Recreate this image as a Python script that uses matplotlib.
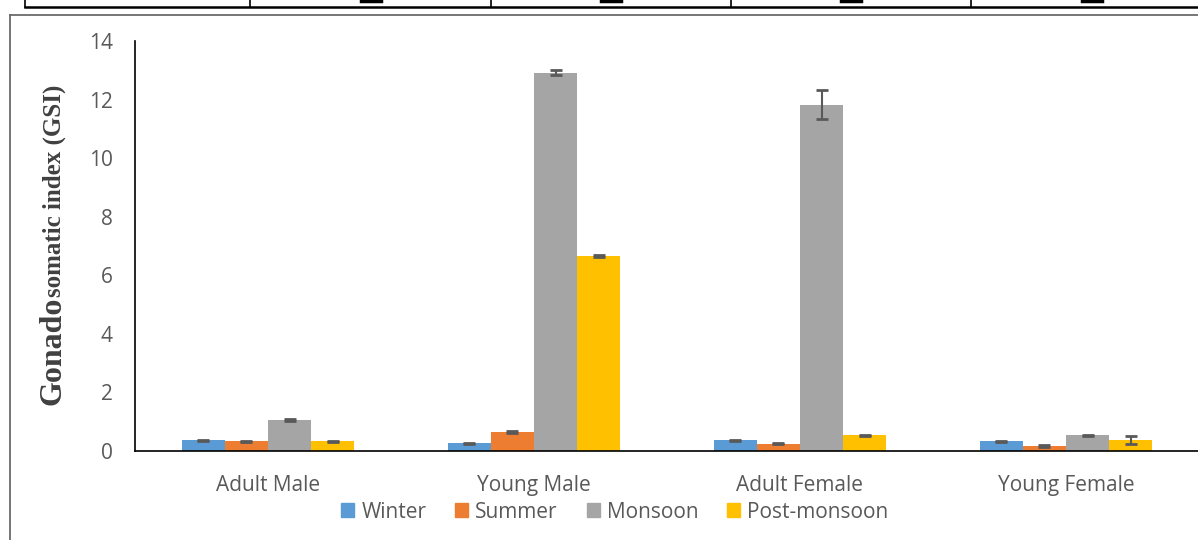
import matplotlib
matplotlib.use("Agg")
import matplotlib.pyplot as plt
import numpy as np
from matplotlib.lines import Line2D
from matplotlib.patches import Rectangle

categories = ["Adult Male", "Young Male", "Adult Female", "Young Female"]
seasons = ["Winter", "Summer", "Monsoon", "Post-monsoon"]
colors = ["#5B9BD5", "#ED7D31", "#A5A5A5", "#FFC000"]

winter = [0.36, 0.26, 0.36, 0.33]
summer = [0.33, 0.65, 0.25, 0.17]
monsoon = [1.05, 12.92, 11.83, 0.53]
post_monsoon = [0.33, 6.65, 0.53, 0.37]

winter_err = [0.02, 0.02, 0.02, 0.02]
summer_err = [0.02, 0.02, 0.02, 0.02]
monsoon_err = [0.03, 0.08, 0.50, 0.02]
post_monsoon_err = [0.02, 0.03, 0.03, 0.14]

yticks = [0, 2, 4, 6, 8, 10, 12, 14]

W, H = 1198, 540
fig = plt.figure(figsize=(W / 100, H / 100), dpi=100)
fig.patch.set_facecolor("white")

tick_font = "Open Sans"
text_color = "#595959"
fs = 15.0

# plot area
x0, x1, ytop, ybot = 135, 1199, 41, 451
ax = fig.add_axes([x0 / W, 1 - ybot / H, (x1 - x0) / W, (ybot - ytop) / H])

series = [winter, summer, monsoon, post_monsoon]
errors = [winter_err, summer_err, monsoon_err, post_monsoon_err]
n = len(series)
bar_w = 0.1617
x = np.arange(len(categories))
for i, (vals, errs) in enumerate(zip(series, errors)):
    pos = x + (i - (n - 1) / 2) * bar_w
    ax.bar(pos, vals, width=bar_w, color=colors[i], edgecolor="none",
           label=seasons[i], zorder=2)
    ax.errorbar(pos, vals, yerr=errs, fmt="none", ecolor="#595959",
                elinewidth=1.5, capsize=4.5, capthick=2.0, zorder=3)

ax.set_xlim(-0.5, len(categories) - 0.5)
ax.set_ylim(0, 14)
ax.set_yticks(yticks)
ax.set_xticks(x)
ax.set_xticklabels(categories)
for s in ["top", "right"]:
    ax.spines[s].set_visible(False)
for s in ["left", "bottom"]:
    ax.spines[s].set_color("black")
    ax.spines[s].set_linewidth(1.2)
ax.tick_params(axis="both", length=0, labelsize=fs, colors=text_color,
               labelfontfamily=tick_font)
ax.tick_params(axis="y", pad=16)
ax.tick_params(axis="x", pad=17)

# legend
handles = [Rectangle((0, 0), 1, 1, color=c) for c in colors]
leg = fig.legend(handles, seasons, loc="center", bbox_to_anchor=(615 / W, 1 - 512 / H),
                 ncol=4, frameon=False, handlelength=0.62, handleheight=0.62,
                 handletextpad=0.35, columnspacing=1.38,
                 prop={"family": tick_font, "size": fs})
for t in leg.get_texts():
    t.set_color(text_color)

# y-axis title in two sizes
label_color = "#404040"
fig.canvas.draw()
r = fig.canvas.get_renderer()
bx, by = 61, 405
t1 = fig.text(bx / W, 1 - by / H, "Gonado", rotation=90, rotation_mode="anchor",
              ha="left", va="baseline", family="Liberation Serif",
              fontweight="bold", fontsize=23, color=label_color)
ext = t1.get_window_extent(r)
fig.text(bx / W, ext.y1 / H, "somatic index (GSI)", rotation=90,
         rotation_mode="anchor", ha="left", va="baseline",
         family="Liberation Serif", fontweight="bold", fontsize=18,
         color=label_color)

# frame around the chart
border = "#6b6b6b"
fig.add_artist(Line2D([10 / W, 10 / W], [0, 1 - 15 / H], transform=fig.transFigure,
                      color=border, lw=1.3))
fig.add_artist(Line2D([10 / W, 1], [1 - 15 / H, 1 - 15 / H], transform=fig.transFigure,
                      color=border, lw=1.3))

# table row above the chart
fig.add_artist(Line2D([25 / W, 1], [1 - 7 / H, 1 - 7 / H], transform=fig.transFigure,
                      color="black", lw=1.8))
for vx in [25, 250, 491, 731, 971]:
    fig.add_artist(Line2D([vx / W, vx / W], [1 - 7 / H, 1], transform=fig.transFigure,
                          color="black", lw=1.2))
for mx in [371, 611, 851, 1092]:
    fig.add_artist(Line2D([(mx - 10) / W, (mx + 10) / W], [1 - 0.5 / H, 1 - 0.5 / H],
                          transform=fig.transFigure, color="black", lw=2.5))

fig.savefig("out.png", dpi=100)
